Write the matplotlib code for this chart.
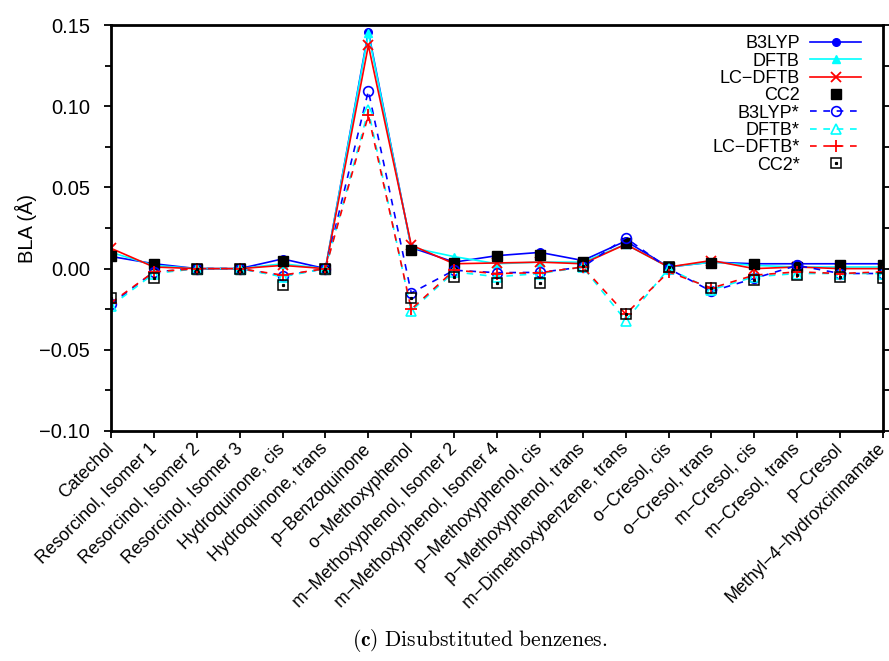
import numpy as np
import matplotlib
matplotlib.use('Agg')
import matplotlib.pyplot as plt

plt.rcParams['font.family'] = ['Liberation Sans', 'DejaVu Sans']
plt.rcParams['mathtext.fontset'] = 'cm'

nan = np.nan

molecules = ['Catechol', 'Resorcinol, Isomer 1', 'Resorcinol, Isomer 2', 'Resorcinol, Isomer 3',
             'Hydroquinone, cis', 'Hydroquinone, trans', 'p\u2212Benzoquinone', 'o\u2212Methoxyphenol',
             'm\u2212Methoxyphenol, Isomer 2', 'm\u2212Methoxyphenol, Isomer 4', 'p\u2212Methoxyphenol, cis',
             'p\u2212Methoxyphenol, trans', 'm\u2212Dimethoxybenzene, trans', 'o\u2212Cresol, cis',
             'o\u2212Cresol, trans', 'm\u2212Cresol, cis', 'm\u2212Cresol, trans', 'p\u2212Cresol',
             'Methyl\u22124\u2212hydroxcinnamate']

# BLA values (Angstrom), ground state and starred (excited) state
b3lyp = [0.0075, 0.003, 0.0, 0.0, 0.006, 0.0, 0.146, 0.013, 0.004, 0.008, 0.010, 0.005,
         0.017, 0.001, 0.004, 0.003, 0.003, 0.003, 0.003]
dftb = [0.010, 0.002, 0.0, 0.0, 0.003, 0.0, 0.145, 0.013, 0.0074, 0.003, 0.004, 0.004,
        0.015, 0.001, 0.004, 0.002, 0.001, 0.001, 0.001]
lcdftb = [0.0125, 0.001, 0.0, 0.0, 0.002, 0.0, 0.1375, 0.0145, 0.003, 0.0035, 0.004, 0.003,
          0.015, 0.001, 0.005, 0.0, 0.001, 0.0, 0.0]
cc2 = [0.0075, 0.003, 0.0, 0.0, 0.0045, 0.0, nan, 0.0115, 0.0035, 0.008, 0.0085, 0.004,
       0.0155, 0.001, 0.0035, 0.003, 0.001, 0.0025, 0.0025]

b3lyp_s = [-0.022, -0.002, 0.0, 0.0, -0.0045, 0.0, 0.1095, -0.015, -0.001, -0.0025, -0.0023, 0.001,
           0.019, 0.0, -0.014, -0.006, 0.002, -0.003, -0.003]
dftb_s = [-0.023, -0.003, 0.0, 0.0, -0.005, 0.0, 0.0975, -0.026, -0.002, -0.005, -0.003, 0.001,
          -0.032, 0.0, -0.013, -0.005, -0.003, -0.003, -0.003]
lcdftb_s = [-0.021, -0.002, 0.0, 0.0, -0.004, 0.0, 0.0945, -0.025, -0.001, -0.003, -0.0025, 0.001,
            -0.028, -0.002, -0.012, -0.004, -0.002, -0.003, -0.002]
cc2_s = [-0.018, -0.006, 0.0, 0.0, -0.010, 0.0, nan, -0.018, -0.005, -0.009, -0.009, 0.0015,
         -0.028, 0.001, -0.012, -0.007, -0.004, -0.005, -0.006]

x = np.arange(len(molecules))

fig = plt.figure(figsize=(8.89, 6.61), dpi=100)
ax = fig.add_axes([0.1249, 0.348, 0.8684, 0.614])

lw = 1.2
dash = (0, (4, 4))
h1, = ax.plot(x, b3lyp, '-', color='#0000ff', lw=lw, marker='o', ms=5.5, label='B3LYP')
h2, = ax.plot(x, dftb, '-', color='#00ffff', lw=lw, marker='^', ms=5.5, label='DFTB')
h3, = ax.plot(x, lcdftb, '-', color='#ff0000', lw=lw, marker='x', ms=7, mew=1.3, label='LC\u2212DFTB')
h4, = ax.plot(x, cc2, 's', color='black', ms=7.5, ls='none', label='CC2')
h5, = ax.plot(x, b3lyp_s, color='#0000ff', lw=lw, ls=dash, marker='o', ms=7, mfc='none', mew=1.2, label='B3LYP*')
h6, = ax.plot(x, dftb_s, color='#00ffff', lw=lw, ls=dash, marker='^', ms=7, mfc='none', mew=1.2, label='DFTB*')
h7, = ax.plot(x, lcdftb_s, color='#ff0000', lw=lw, ls=dash, marker='+', ms=9, mew=1.3, label='LC\u2212DFTB*')
h8, = ax.plot(x, cc2_s, 's', color='black', ms=7.5, mfc='none', mew=1.1, ls='none', label='CC2*')
h8b, = ax.plot(x, cc2_s, 's', color='black', ms=1.3, ls='none')

ax.set_xlim(0, 18)
ax.set_ylim(-0.10, 0.15)
ax.set_yticks(np.arange(-0.10, 0.151, 0.05))
ax.set_yticks(np.arange(-0.10, 0.151, 0.025), minor=True)
ax.set_yticklabels(['\u22120.10', '\u22120.05', '0.00', '0.05', '0.10', '0.15'])
ax.set_xticks(x)
ax.set_xticklabels(molecules, rotation=45, ha='right', va='center', rotation_mode='anchor', fontsize=12.8)

ax.tick_params(axis='y', which='both', direction='out', right=True, labelsize=14.5, width=1.3, pad=10)
ax.tick_params(axis='y', which='major', length=5)
ax.tick_params(axis='y', which='minor', length=4)
ax.tick_params(axis='x', direction='out', length=5, width=1.3, pad=6)
for sp in ax.spines.values():
    sp.set_linewidth(2.0)

ax.set_ylabel('BLA (\u00c5)', fontsize=14.5, labelpad=2)

ax.legend([h1, h2, h3, h4, h5, h6, h7, (h8, h8b)],
          ['B3LYP', 'DFTB', 'LC\u2212DFTB', 'CC2', 'B3LYP*', 'DFTB*', 'LC\u2212DFTB*', 'CC2*'],
          loc='upper right', bbox_to_anchor=(0.9715, 0.975), frameon=False, markerfirst=False,
          fontsize=13, handlelength=2.8, handletextpad=0.6, labelspacing=0.02,
          borderpad=0, borderaxespad=0)

fig.text(0.539, 1 - 641 / 661, r'$\mathbf{(c)}\ \mathrm{Disubstituted\ benzenes.}$',
         ha='center', va='center', fontsize=15.5)

fig.savefig('out.png', dpi=100)
